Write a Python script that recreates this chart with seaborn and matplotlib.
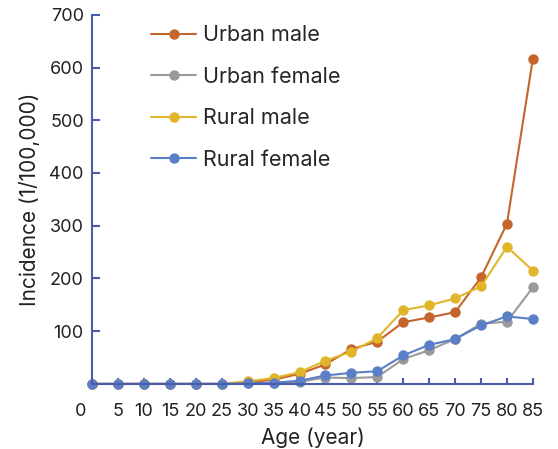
import numpy as np
import pandas as pd
import seaborn as sns
import matplotlib.pyplot as plt
import matplotlib.transforms as mtransforms

ages = [0, 5, 10, 15, 20, 25, 30, 35, 40, 45, 50, 55, 60, 65, 70, 75, 80, 85]
urban_male = [0, 0, 0, 0, 0, 0, 3, 8, 19, 37, 66, 80, 117, 126, 136, 202, 304, 617]
urban_female = [0, 0, 0, 0, 0, 0, 1, 2, 4, 12, 11, 13, 47, 64, 85, 114, 118, 183]
rural_male = [0, 0, 0, 0, 0, 0, 5, 11, 22, 44, 61, 87, 140, 149, 162, 185, 260, 215]
rural_female = [0, 0, 0, 0, 0, 0, 1, 2, 6, 16, 21, 24, 54, 74, 85, 111, 128, 123]

series_names = ["Urban male", "Urban female", "Rural male", "Rural female"]
colors = ["#c4652d", "#9a9a9a", "#e0b52a", "#5b7fc6"]
axis_color = "#4a5cae"

df = pd.DataFrame({
    "Age": ages * 4,
    "Incidence": urban_male + urban_female + rural_male + rural_female,
    "Group": sum([[n] * len(ages) for n in series_names], []),
})

sns.set_style("white")
plt.rcParams["font.family"] = ["Inter", "DejaVu Sans"]

fig = plt.figure(figsize=(5.58, 4.49), dpi=100)
ax = fig.add_axes([0.165, 0.145, 0.79, 0.822])

sns.lineplot(data=df, x="Age", y="Incidence", hue="Group", hue_order=series_names,
             palette=colors, marker="o", markersize=7.5, markeredgewidth=0,
             linewidth=1.5, ax=ax, clip_on=False)

ax.set_xlim(0, 85)
ax.set_ylim(0, 700)
ax.set_xticks(ages)
ax.set_xticklabels([str(a) for a in ages])
ax.set_yticks(range(100, 701, 100))

for side in ["top", "right"]:
    ax.spines[side].set_visible(False)
for side in ["left", "bottom"]:
    ax.spines[side].set_color(axis_color)
    ax.spines[side].set_linewidth(1.5)

ax.tick_params(axis="both", direction="in", colors=axis_color, labelcolor="#222222",
               labelsize=13, width=1.5, bottom=True, left=True)
ax.tick_params(axis="y", length=6, pad=6)
ax.tick_params(axis="x", length=4, pad=14)

# shift the "0" label left of the y axis like the original
first = ax.get_xticklabels()[0]
first.set_transform(first.get_transform() + mtransforms.ScaledTranslation(-12 / 100, 0, fig.dpi_scale_trans))

ax.set_xlabel("Age (year)", fontsize=15, color="#222222", labelpad=5)
ax.set_ylabel("Incidence (1/100,000)", fontsize=15, color="#222222", labelpad=7)

leg = ax.legend(loc="upper left", bbox_to_anchor=(0.09, 1.024), frameon=False,
                fontsize=15.5, handlelength=2.1, handletextpad=0.3, labelspacing=1.0)

fig.savefig("out.png", dpi=100)
